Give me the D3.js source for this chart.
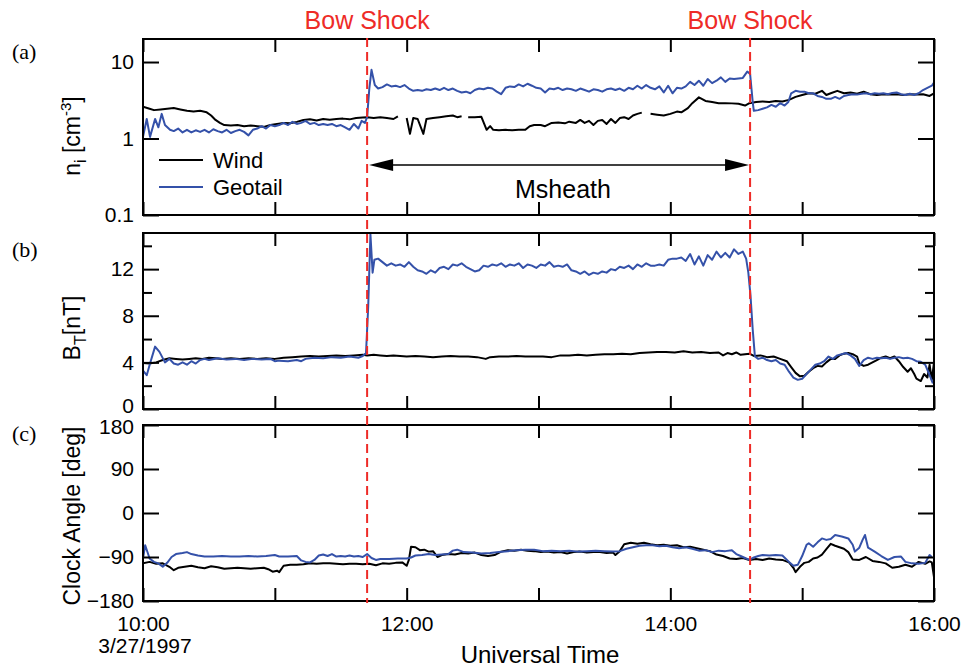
<!DOCTYPE html>
<html>
<head>
<meta charset="utf-8">
<script src="https://cdn.jsdelivr.net/npm/d3@7"></script>
<style>
body { margin: 0; background: #fff; }
svg { font-family: "Liberation Sans", Arial, Helvetica, sans-serif; }
</style>
</head>
<body>
<div id="chart"></div>
<script>
// All times are minutes after 10:00 UT on 3/27/1997, null = data gap

// (a) ion density [cm-3]
const windDensity = [
  [0,2.6],[3,2.45],[5,2.35],[8,2.4],[11,2.45],[14,2.5],[17,2.4],[20,2.3],[23,2.25],[26,2.3],[29,2.2],[31,2.0],
  [33,1.75],[35,1.6],[37,1.5],[40,1.48],[43,1.5],[46,1.45],[49,1.48],[52,1.45],[55,1.42],[58,1.5],[61,1.55],
  [64,1.6],[67,1.58],[70,1.65],[73,1.75],[76,1.78],[79,1.72],[82,1.8],[85,1.76],[88,1.8],[91,1.82],[94,1.78],
  [97,1.85],[100,1.88],[102,1.9],[105,1.85],[108,1.9],[111,1.85],[114,1.8],[116,1.95],[117,null],
  [120,1.85],[121.5,1.15],[123,1.85],[125,1.8],[127.6,1.15],[129,1.8],[132,1.85],[135,1.9],[138,1.95],[141,2.0],
  [143,1.9],[145,1.95],[146,null],[148,1.9],[151,1.9],[154,1.92],[156.4,1.3],[158,1.45],[159.4,1.3],[162,1.28],
  [165,1.3],[168,1.28],[171,1.3],[174,1.3],[176,1.45],[178,1.5],[181,1.5],[183,1.45],[186,1.6],[189,1.62],
  [192,1.58],[194,1.66],[197,1.6],[199,1.75],[201,1.6],[203,1.7],[205,1.5],[207,1.7],[209,1.75],[211,1.55],
  [213,1.8],[215,1.6],[217,1.85],[219,1.9],[221,1.8],[223,2.0],[225,2.1],[227,2.18],[228,null],[231,2.1],
  [234,2.05],[237,2.0],[240,2.1],[243,2.25],[245,2.2],[248,2.5],[250,2.9],[253,3.45],[256,3.1],[259,3.0],
  [262,2.9],[265,2.9],[268,2.88],[271,2.85],[274,2.7],[276,2.9],[279,3.0],[282,3.05],[285,3.0],[288,3.1],
  [291,3.05],[294,3.2],[297,3.5],[300,3.7],[303,3.9],[306,3.85],[309,4.2],[311,3.7],[313,3.9],[316,4.2],
  [319,3.9],[322,4.0],[325,3.85],[328,4.1],[331,3.8],[334,3.7],[337,3.8],[340,3.75],[343,3.8],[346,3.7],
  [349,3.8],[352,3.75],[355,3.8],[358,3.6],[360,3.9]
];
const geotailDensity = [
  [0,1.05],[1.7,1.8],[3.2,1.05],[5.5,1.8],[7,1.4],[8.5,2.1],[10,1.5],[12.3,1.3],[14,1.25],[16,1.35],[18,1.2],
  [20,1.3],[22,1.2],[24,1.28],[26,1.22],[28,1.3],[30,1.2],[32,1.32],[34,1.25],[36,1.2],[38,1.3],[40,1.18],
  [42,1.25],[44,1.3],[46,1.22],[48,1.1],[50,1.3],[52,1.35],[54,1.45],[56,1.35],[58,1.5],[60,1.45],[62,1.5],
  [64,1.6],[66,1.5],[68,1.65],[70,1.55],[72,1.6],[74,1.7],[76,1.55],[78,1.6],[80,1.5],[82,1.55],[84,1.5],
  [86,1.55],[88,1.45],[90,1.5],[92,1.4],[94,1.3],[96,1.55],[98,1.35],[99.5,1.7],[101,1.6],[102,1.9],[103,4.5],
  [104,7.9],[105.5,5.0],[107,4.5],[109,4.7],[111,5.1],[113,4.8],[115,4.9],[117,4.7],[119,5.0],[121,4.5],
  [123,4.2],[125,4.3],[127,4.2],[129,4.4],[131,4.3],[133,4.5],[135,4.3],[137,4.6],[139,4.3],[141,4.5],
  [143,4.2],[145,4.0],[147,4.1],[149,3.9],[151,4.3],[153,4.5],[155,4.4],[157,4.6],[159,4.5],[161,4.1],
  [163,3.8],[165,4.6],[167,4.8],[169,4.7],[171,5.1],[173,4.8],[175,5.2],[177,4.9],[179,4.6],[181,4.5],
  [183,4.0],[185,4.5],[187,4.4],[189,4.6],[191,4.3],[193,4.5],[195,4.4],[197,4.2],[199,4.5],[201,4.3],
  [203,4.1],[205,4.4],[207,4.3],[209,4.1],[211,4.4],[213,4.5],[215,4.3],[217,4.5],[219,4.2],[221,4.6],
  [223,4.4],[225,4.9],[227,4.5],[229,5.0],[231,4.6],[233,4.4],[235,4.8],[237,4.0],[239,4.9],[241,3.9],
  [243,4.6],[245,4.5],[247,4.8],[249,5.5],[251,5.0],[253,5.7],[255,4.9],[257,6.0],[259,5.3],[261,5.7],
  [263,6.3],[265,5.5],[267,6.1],[269,6.0],[271,6.1],[273,6.2],[275,7.5],[276.3,7.0],[277.5,3.0],[278,2.3],
  [280,2.35],[282,2.45],[284,2.55],[286,2.75],[288,2.6],[290,2.9],[292,2.7],[293.7,3.0],[295,3.9],[297,4.2],
  [299,4.1],[301,4.1],[303,3.9],[305,3.9],[307,3.6],[309,3.5],[311,3.3],[313,3.3],[315,3.5],[317,3.3],
  [319,3.6],[321,3.7],[323,3.8],[325,3.75],[327,3.85],[329,3.9],[331,3.8],[333,3.9],[335,3.85],[337,3.9],
  [339,3.8],[341,3.95],[343,4.0],[345,3.8],[347,3.7],[349,3.85],[351,3.7],[353,3.9],[355,4.3],[357,4.6],
  [359,4.9],[360,5.4]
];

// (b) total field [nT]
const windBt = [
  [0,3.95],[3,3.9],[6,4.0],[9,4.2],[12,4.35],[15,4.3],[18,4.25],[21,4.3],[24,4.35],[27,4.3],[30,4.4],[33,4.35],
  [36,4.3],[40,4.35],[44,4.3],[48,4.35],[52,4.3],[56,4.35],[60,4.3],[64,4.4],[68,4.45],[72,4.5],[76,4.55],
  [80,4.5],[84,4.55],[88,4.6],[92,4.55],[96,4.6],[100,4.65],[102,4.6],[105,4.65],[108,4.6],[111,4.55],
  [114,4.6],[117,4.55],[120,4.5],[124,4.55],[128,4.5],[132,4.45],[136,4.5],[140,4.55],[144,4.5],[148,4.5],
  [152,4.45],[156,4.3],[158,4.45],[162,4.5],[166,4.5],[170,4.55],[174,4.5],[178,4.5],[182,4.5],[186,4.45],
  [190,4.6],[194,4.6],[198,4.65],[202,4.6],[206,4.65],[210,4.7],[214,4.7],[218,4.75],[222,4.7],[226,4.8],
  [230,4.85],[234,4.9],[238,4.9],[242,4.85],[246,4.95],[250,4.85],[254,4.9],[258,4.8],[262,4.85],[264,4.6],
  [266,4.8],[268,4.7],[270,4.85],[272,4.65],[274,4.7],[276,4.75],[278,4.55],[281,4.6],[284,4.45],[287,4.5],
  [290,4.3],[293,4.1],[295,3.6],[297,3.1],[299,2.8],[301,2.85],[303,3.2],[305,3.5],[307,3.7],[309,3.65],
  [311,4.0],[313,4.3],[315,4.3],[317,4.6],[319,4.75],[321,4.8],[323,4.7],[325,4.5],[326,3.9],[328,3.7],
  [330,3.8],[332,4.0],[334,4.2],[336,4.4],[338,4.5],[340,4.35],[342,4.5],[344,4.1],[346,3.6],[348,3.2],
  [349.5,3.5],[351,3.0],[352,2.6],[354,2.4],[355.5,3.0],[357,2.7],[358,3.8],[359,2.5],[360,4.0]
];
const geotailBt = [
  [0,3.3],[1.7,2.9],[3.2,3.9],[5.5,5.35],[7.5,4.9],[10,4.0],[12,4.3],[14,3.9],[16,3.8],[18,4.0],[20,3.8],
  [22,4.1],[24,3.9],[26,4.2],[28,4.3],[30,4.2],[34,4.35],[38,4.25],[42,4.3],[46,4.2],[50,4.3],[54,4.25],
  [58,4.3],[60,4.1],[62,4.15],[66,4.1],[70,4.2],[72,4.1],[74,4.3],[78,4.4],[82,4.35],[86,4.45],[90,4.4],
  [94,4.5],[98,4.4],[100,4.55],[101.5,4.8],[102.5,8.8],[103.5,15.0],[104.5,11.7],[105.3,12.8],[107,12.9],
  [109,12.6],[111,12.3],[113,12.5],[115,12.3],[117,12.4],[119,12.2],[121,12.6],[123,12.2],[125,11.9],
  [127,11.8],[129,11.6],[131,11.9],[133,11.7],[135,12.1],[137,12.2],[139,12.0],[141,12.4],[143,12.3],
  [145,12.5],[147,12.2],[149,12.0],[151,11.8],[153,11.9],[155,12.3],[157,12.2],[159,12.4],[161,12.3],
  [163,12.5],[165,12.2],[167,12.4],[169,12.3],[171,12.5],[173,12.1],[175,12.4],[177,12.3],[179,12.1],
  [181,12.4],[183,12.3],[185,12.6],[187,12.2],[189,12.3],[191,12.2],[193,12.4],[195,11.9],[197,11.8],
  [199,11.6],[201,11.8],[203,11.5],[205,11.7],[207,11.6],[209,11.8],[211,11.7],[213,12.0],[215,11.9],
  [217,12.2],[219,12.1],[221,12.3],[223,12.0],[225,12.4],[227,12.2],[229,12.5],[231,12.3],[233,12.3],
  [235,12.4],[237,12.3],[239,12.8],[241,12.9],[243,12.9],[245,13.0],[247,12.7],[249,13.3],[251,12.4],
  [253,13.1],[255,12.3],[257,13.2],[259,12.8],[261,13.5],[263,13.0],[265,13.4],[267,13.0],[269,13.7],
  [271,13.3],[273,13.5],[274.5,12.9],[275.5,11.7],[276.5,9.7],[277.5,6.8],[278.5,4.5],[280,4.3],[282,4.4],
  [284,4.2],[286,4.1],[288,4.2],[290,3.9],[292,3.8],[294,3.2],[296,2.7],[298,2.5],[300,2.6],[302,3.0],
  [304,3.4],[306,3.8],[308,3.9],[310,4.1],[312,4.5],[314,4.3],[316,4.6],[318,4.7],[320,4.8],[322,4.6],
  [324,4.3],[326,3.7],[328,4.2],[330,4.4],[332,4.3],[334,4.4],[336,4.35],[338,4.4],[340,4.3],[342,4.4],
  [344,4.45],[346,4.35],[348,4.4],[350,4.3],[352,4.1],[354,4.05],[356,3.8],[358,2.9],[359.5,2.2]
];

// (c) clock angle [deg]
const windClock = [
  [0,-103],[3,-100],[6,-104],[9,-103],[12,-110],[14,-117],[16,-112],[19,-110],[22,-108],[25,-111],[28,-113],
  [31,-109],[34,-111],[37,-114],[40,-113],[43,-112],[46,-113],[49,-114],[52,-113],[55,-112],[57,-115],
  [59,-120],[61,-118],[62,-121],[64,-108],[67,-106],[70,-106],[73,-105],[76,-103],[79,-104],[82,-103],
  [85,-103],[88,-104],[91,-105],[94,-104],[97,-104],[100,-105],[103,-104],[106,-107],[109,-103],[112,-104],
  [115,-102],[118,-101],[120,-108],[121,-96],[122,-69],[124,-70],[126,-76],[128,-75],[130,-79],[132,-78],
  [134,-90],[136,-86],[139,-84],[142,-85],[145,-82],[148,-83],[151,-81],[154,-86],[157,-88],[160,-86],
  [163,-79],[166,-76],[169,-77],[172,-75],[175,-77],[178,-78],[181,-80],[184,-79],[187,-81],[190,-80],
  [193,-83],[196,-80],[199,-79],[202,-81],[205,-80],[208,-80],[211,-82],[214,-81],[215,-86],[217,-78],
  [219,-64],[222,-61],[225,-63],[228,-61],[231,-64],[234,-66],[237,-65],[240,-67],[243,-66],[246,-70],
  [249,-69],[252,-72],[255,-75],[258,-78],[261,-85],[264,-88],[267,-93],[270,-94],[273,-92],[276,-96],
  [279,-94],[282,-96],[285,-93],[288,-95],[291,-96],[294,-101],[296,-112],[297,-121],[299,-110],[301,-102],
  [303,-100],[305,-93],[307,-91],[309,-85],[311,-74],[313,-63],[315,-67],[317,-70],[319,-73],[321,-80],
  [323,-95],[326,-96],[329,-90],[332,-98],[335,-100],[338,-103],[341,-112],[344,-110],[347,-106],[350,-110],
  [353,-100],[356,-104],[358,-99],[359,-101],[360,-131]
];
const geotailClock = [
  [0,-93],[1,-66],[3,-93],[5,-100],[7,-103],[9,-110],[11,-102],[13,-90],[15,-84],[18,-82],[20,-80],[22,-84],
  [25,-87],[28,-89],[32,-89],[36,-88],[40,-89],[44,-89],[48,-88],[52,-89],[56,-88],[60,-86],[62,-89],
  [66,-89],[70,-88],[72,-97],[74,-100],[76,-101],[78,-96],[80,-87],[82,-85],[84,-88],[86,-84],[88,-89],
  [90,-88],[92,-89],[94,-87],[96,-89],[98,-88],[100,-90],[102,-84],[104,-92],[106,-96],[108,-94],[112,-94],
  [116,-93],[120,-93],[122,-91],[124,-87],[127,-86],[130,-84],[133,-86],[136,-85],[139,-84],[141,-77],
  [143,-75],[146,-80],[150,-81],[154,-83],[158,-82],[162,-80],[166,-78],[170,-76],[174,-75],[178,-75],
  [182,-78],[186,-77],[190,-78],[194,-77],[198,-79],[202,-78],[206,-77],[210,-78],[214,-79],[217,-78],
  [220,-73],[223,-70],[226,-67],[229,-66],[232,-66],[235,-68],[238,-67],[241,-70],[244,-72],[247,-70],
  [250,-73],[253,-77],[256,-76],[259,-80],[262,-77],[265,-78],[268,-76],[270,-84],[272,-88],[274,-92],
  [276,-96],[278,-91],[280,-88],[282,-86],[285,-87],[288,-86],[291,-87],[294,-100],[296,-108],[298,-106],
  [300,-88],[302,-65],[303,-62],[305,-69],[307,-60],[309,-52],[311,-55],[313,-53],[315,-45],[318,-48],
  [321,-52],[323,-65],[324,-79],[326,-71],[327.5,-55],[328.6,-45],[330,-71],[333,-79],[336,-88],[339,-96],
  [342,-90],[345,-89],[347,-100],[350,-103],[353,-104],[356,-102],[358,-86],[359,-90]
];

const shockMinutes = [102, 276.3];
const hourTicks = [10, 11, 12, 13, 14, 15, 16];
const hourLabels = [10, 12, 14, 16];
const densityTicks = [0.1, 1, 10];
const btTicks = [0, 4, 8, 12];
const btMinor = [2, 6, 10, 14];
const clockTicks = [-180, -90, 0, 90, 180];

const windColor = "#000";
const geotailColor = "#3451a9";
const shockColor = "#ee2b27";

const svg = d3.select("#chart").append("svg")
    .attr("width", 963)
    .attr("height", 671);

const t0 = new Date(1997, 2, 27, 10, 0);
const toDate = m => new Date(t0.getTime() + m * 60000);
const hourDate = h => new Date(1997, 2, 27, h, 0);

const x = d3.scaleTime()
    .domain([hourDate(10), hourDate(16)])
    .range([143, 934]);

svg.append("defs").append("clipPath").attr("id", "plotclip")
    .append("rect").attr("x", 143).attr("y", 0).attr("width", 791).attr("height", 671);

function drawPanel(p) {
    const g = svg.append("g");
    const y = p.y;

    // data
    const line = d3.line()
        .defined(d => d[1] !== null)
        .x(d => x(toDate(d[0])))
        .y(d => y(d[1]));

    const clip = g.append("g").attr("clip-path", "url(#plotclip)");
    clip.append("path")
        .datum(p.wind)
        .attr("fill", "none")
        .attr("stroke", windColor)
        .attr("stroke-width", 2)
        .attr("stroke-linejoin", "round")
        .attr("d", line);
    clip.append("path")
        .datum(p.geotail)
        .attr("fill", "none")
        .attr("stroke", geotailColor)
        .attr("stroke-width", 2)
        .attr("stroke-linejoin", "round")
        .attr("d", line);

    // time ticks on top and bottom, pointing inward
    g.append("g")
        .attr("transform", `translate(0,${p.top})`)
        .call(d3.axisTop(x).tickValues(hourTicks.map(hourDate)).tickSize(-13).tickFormat(""));
    g.append("g")
        .attr("transform", `translate(0,${p.bottom})`)
        .call(d3.axisBottom(x).tickValues(hourTicks.map(hourDate)).tickSize(-13).tickPadding(15)
            .tickFormat(d => p.showTime && hourLabels.includes(d.getHours()) ? d3.timeFormat("%H:%M")(d) : ""));

    // value ticks left and right
    const yLeft = g.append("g")
        .attr("transform", "translate(143,0)")
        .call(d3.axisLeft(y).tickValues(p.ticks).tickSize(-16).tickPadding(9).tickFormat(p.format));
    g.append("g")
        .attr("transform", "translate(934,0)")
        .call(d3.axisRight(y).tickValues(p.ticks).tickSize(-16).tickFormat(""));
    if (p.minor) {
        g.append("g").attr("transform", "translate(143,0)")
            .call(d3.axisLeft(y).tickValues(p.minor).tickSize(-9).tickFormat(""));
        g.append("g").attr("transform", "translate(934,0)")
            .call(d3.axisRight(y).tickValues(p.minor).tickSize(-9).tickFormat(""));
    }

    g.selectAll(".domain").remove();
    g.selectAll(".tick line").attr("stroke", "#000").attr("stroke-width", 2);
    g.selectAll(".tick text").attr("font-size", 21).attr("fill", "#000")
        .attr("font-family", "Liberation Sans, Arial, sans-serif");

    // keep the end labels of stacked panels apart
    if (p.nudge) {
        yLeft.selectAll(".tick text").attr("dy", d => p.nudge[d] || "0.32em");
    }

    g.append("rect")
        .attr("x", 143).attr("y", p.top)
        .attr("width", 791).attr("height", p.bottom - p.top)
        .attr("fill", "none")
        .attr("stroke", "#000")
        .attr("stroke-width", 2);

    // panel letter
    g.append("text")
        .attr("x", 12).attr("y", p.letterY)
        .attr("font-family", "Liberation Serif, Times New Roman, serif")
        .attr("font-size", 22)
        .text(p.letter);

    // y label
    const lab = g.append("text")
        .attr("transform", `translate(80,${p.labelY}) rotate(-90)`)
        .attr("text-anchor", "middle")
        .attr("font-size", 23);
    p.label(lab);
}

drawPanel({
    top: 39, bottom: 215,
    y: d3.scaleLog().domain([0.1, 20]).range([215, 39]),
    wind: windDensity, geotail: geotailDensity,
    ticks: densityTicks, format: d => d === 0.1 ? "0.1" : d3.format("d")(d),
    letter: "(a)", letterY: 59, labelY: 136,
    label: t => {
        t.append("tspan").text("n");
        t.append("tspan").attr("font-size", 16).attr("dy", 6).text("i");
        t.append("tspan").attr("dy", -6).text(" [cm");
        t.append("tspan").attr("font-size", 15).attr("dy", -9).text("-3");
        t.append("tspan").attr("dy", 9).text("]");
    }
});

drawPanel({
    top: 233, bottom: 409,
    y: d3.scaleLinear().domain([0, 15.1]).range([409, 233]),
    wind: windBt, geotail: geotailBt,
    ticks: btTicks, minor: btMinor, format: d3.format("d"),
    nudge: { 0: "0.18em" },
    letter: "(b)", letterY: 257, labelY: 328,
    label: t => {
        t.append("tspan").text("B");
        t.append("tspan").attr("font-size", 16).attr("dy", 6).text("T");
        t.append("tspan").attr("dy", -6).text("[nT]");
    }
});

drawPanel({
    top: 425, bottom: 601,
    y: d3.scaleLinear().domain([-180, 180]).range([601, 425]),
    wind: windClock, geotail: geotailClock,
    ticks: clockTicks, format: d3.format("d"),
    nudge: { 180: "0.42em" },
    showTime: true,
    letter: "(c)", letterY: 441, labelY: 516,
    label: t => t.text("Clock Angle [deg]")
});

// date under first time label
svg.append("text")
    .attr("x", 145).attr("y", 653)
    .attr("text-anchor", "middle")
    .attr("font-size", 21)
    .text("3/27/1997");

svg.append("text")
    .attr("x", 540).attr("y", 663)
    .attr("text-anchor", "middle")
    .attr("font-size", 24)
    .text("Universal Time");

// legend in panel (a)
const legend = [["Wind", windColor], ["Geotail", geotailColor]];
legend.forEach(([name, color], i) => {
    const ly = 160 + i * 27;
    svg.append("line")
        .attr("x1", 159).attr("x2", 203)
        .attr("y1", ly).attr("y2", ly)
        .attr("stroke", color).attr("stroke-width", 2);
    svg.append("text")
        .attr("x", 213).attr("y", ly + 7.5)
        .attr("font-size", 22)
        .text(name);
});

// bow shock crossings
shockMinutes.forEach(m => {
    const sx = x(toDate(m));
    svg.append("line")
        .attr("x1", sx).attr("x2", sx)
        .attr("y1", 38).attr("y2", 603)
        .attr("stroke", shockColor)
        .attr("stroke-width", 2)
        .attr("stroke-dasharray", "9,5");
    svg.append("text")
        .attr("x", sx).attr("y", 29)
        .attr("text-anchor", "middle")
        .attr("font-size", 25)
        .attr("fill", shockColor)
        .text("Bow Shock");
});

// magnetosheath interval arrow
const ax1 = x(toDate(shockMinutes[0])) + 2;
const ax2 = x(toDate(shockMinutes[1])) - 1;
const ay = 165;
svg.append("line")
    .attr("x1", ax1 + 10).attr("x2", ax2 - 10)
    .attr("y1", ay).attr("y2", ay)
    .attr("stroke", "#000").attr("stroke-width", 1.5);
svg.append("path")
    .attr("d", `M${ax1},${ay} L${ax1 + 24},${ay - 6} L${ax1 + 24},${ay + 6} Z`)
    .attr("fill", "#000");
svg.append("path")
    .attr("d", `M${ax2},${ay} L${ax2 - 24},${ay - 6} L${ax2 - 24},${ay + 6} Z`)
    .attr("fill", "#000");
svg.append("text")
    .attr("x", 563).attr("y", 198)
    .attr("text-anchor", "middle")
    .attr("font-size", 25)
    .text("Msheath");
</script>
</body>
</html>
